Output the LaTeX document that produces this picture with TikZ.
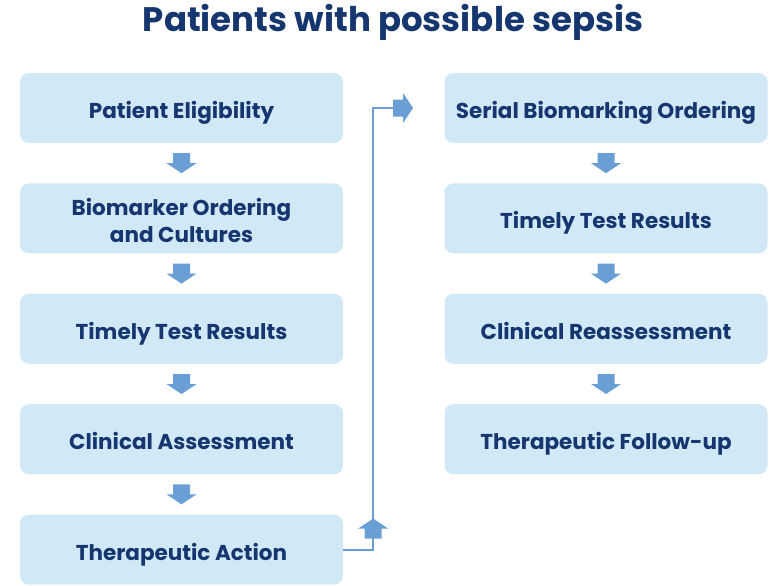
\documentclass[tikz,border=0pt]{standalone}
\usepackage{fontspec}
\setmainfont{Poppins}
\usepackage{xcolor}
\usetikzlibrary{positioning,calc}

\definecolor{boxblue}{HTML}{D1E8F7}
\definecolor{navy}{HTML}{15366F}
\definecolor{arrblue}{HTML}{6A9FD6}

% fat block arrow: name, position, direction angle
\newcommand{\blockarrow}[3]{%
  \coordinate (#1) at (#2);
  \fill[arrblue, shift={(#1)}, rotate=#3]
    (-10,-8.5) -- (0,-8.5) -- (0,-15) -- (10,0) -- (0,15) -- (0,8.5) -- (-10,8.5) -- cycle;}

\begin{document}
\begin{tikzpicture}[
  x=1pt, y=1pt,
  font=\bfseries\fontsize{21.5}{27}\selectfont,
  node distance=40pt,
  stepbox/.style={fill=boxblue, rounded corners=9pt, minimum width=323pt,
                  minimum height=70pt, align=center, inner sep=2pt, text=navy,
                  text height=21pt, text depth=0pt},
  conn/.style={draw=arrblue, line width=2.2pt}
]
\useasboundingbox (0,0) rectangle (771,-586);

\node[text=navy, font=\bfseries\fontsize{34}{40}\selectfont] (title) at (393,-22) {Patients with possible sepsis};

% left column
\node[stepbox] (pe) at (181.5,-108) {Patient Eligibility};
\node[stepbox, below=of pe, text height=49pt] (bo) {Biomarker Ordering\\and Cultures};
\node[stepbox, below=of bo] (tt) {Timely Test Results};
\node[stepbox, below=of tt] (ca) {Clinical Assessment};
\node[stepbox, below=of ca] (ta) {Therapeutic Action};

% right column
\node[stepbox] (sb) at (606,-108) {Serial Biomarking Ordering};
\node[stepbox, below=of sb] (rt) {Timely Test Results};
\node[stepbox, below=of rt] (cr) {Clinical Reassessment};
\node[stepbox, below=of cr] (tf) {Therapeutic Follow-up};

\foreach \a/\b in {pe/bo, bo/tt, tt/ca, ca/ta, sb/rt, rt/cr, cr/tf}
  \blockarrow{d\a}{$(\a.south)!0.5!(\b.north)$}{-90};

% link from the last step over to the serial column
\blockarrow{rarr}{403,-108}{0}
\draw[conn] (ta.east) -- ++(30,0) coordinate (turn) |- ([xshift=1]rarr.west);
\blockarrow{uarr}{$(turn)+(0,21)$}{90}
\end{tikzpicture}
\end{document}
